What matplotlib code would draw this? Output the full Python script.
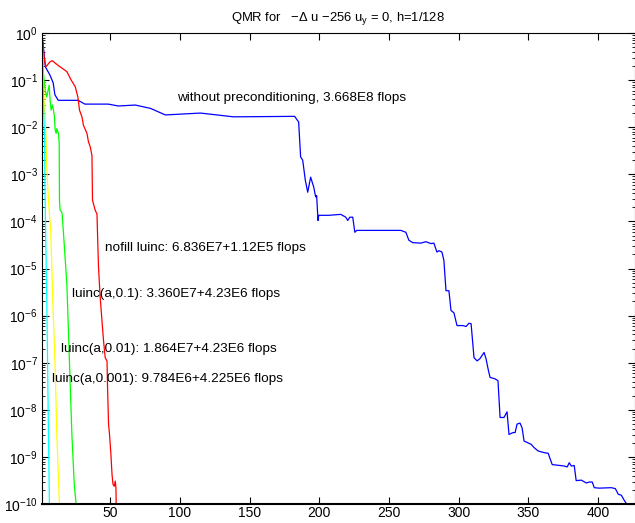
import numpy as np
import matplotlib
matplotlib.use("Agg")
import matplotlib.pyplot as plt
from matplotlib.ticker import LogLocator, NullFormatter, NullLocator

plt.rcParams['font.family'] = ['Liberation Sans', 'DejaVu Sans']
plt.rcParams['mathtext.fontset'] = 'custom'
plt.rcParams['mathtext.rm'] = 'Liberation Sans'
plt.rcParams['mathtext.it'] = 'Liberation Sans'
plt.rcParams['mathtext.default'] = 'regular'

# Residuen (log10) je Iteration
it_none = [1, 3.5, 6.7, 9.1, 10.3, 12.7, 27, 31.8, 48.6, 55.8, 68, 78.8, 89.6, 114.7, 138.5,
           182.3, 185.2, 186.6, 188.1, 190, 191.7, 193.8, 196, 197.4, 198.1, 198.8, 199.1, 199.6,
           206.8, 215.4, 219, 220.4, 221.9, 224, 225.5, 226.9, 258.5, 262.1, 264.3, 267.1, 272.9,
           276.5, 280.1, 282.2, 284.4, 285.8, 288, 289.4, 290.9, 293, 294.5, 296.6, 298.8, 303.1,
           305.3, 307.4, 308.9, 311, 313.2, 315.3, 318.2, 319.6, 321.1, 322.5, 326.1, 328.2, 329.7,
           332.5, 334.7, 336.1, 339, 340.5, 341.9, 344, 345.5, 346.9, 349.8, 352, 354.1, 357,
           359.2, 362, 364.2, 367.1, 370, 375.7, 377.9, 379.3, 380.8, 382.9, 384.3, 388, 391.5,
           393.7, 395.8, 397.3, 400.9, 409.5, 412.4, 414.5, 416.7, 418.8, 421]
lg_none = [0, -0.72, -0.89, -1.06, -1.31, -1.43, -1.43, -1.51, -1.51, -1.55, -1.53, -1.60, -1.74,
           -1.70, -1.78, -1.77, -1.89, -2.63, -2.70, -3.13, -3.38, -3.06, -3.27, -3.48, -3.45,
           -3.83, -3.98, -3.87, -3.87, -3.85, -3.91, -3.98, -3.91, -3.91, -4.23, -4.19, -4.19,
           -4.23, -4.40, -4.45, -4.46, -4.43, -4.47, -4.46, -4.65, -4.62, -4.65, -4.83, -5.47,
           -5.47, -5.89, -5.94, -6.21, -6.21, -6.23, -6.16, -6.17, -6.89, -6.96, -6.91, -6.78,
           -6.91, -7.13, -7.31, -7.34, -7.38, -8.16, -8.16, -8.04, -8.52, -8.48, -8.48, -8.30,
           -8.28, -8.38, -8.66, -8.70, -8.73, -8.80, -8.87, -8.89, -8.91, -8.92, -9.16, -9.17,
           -9.19, -9.21, -9.12, -9.19, -9.18, -9.50, -9.49, -9.55, -9.53, -9.53, -9.65, -9.66,
           -9.65, -9.67, -9.79, -9.81, -9.92, -10.02]

it_nofill = [1, 2.8, 3.8, 6.9, 8.6, 10.5, 14.1, 18.9, 22, 24.9, 26.8, 28, 29.7, 30.8, 33.3, 34.4,
             35.7, 36.9, 37.3, 39.3, 40.5, 40.9, 41.6, 42.8, 44.1, 45.2, 46.4, 47.7, 48.1, 48.8,
             49.5, 50.5, 51.3, 52, 52.9, 53.6, 54.1, 54.3]
lg_nofill = [0, -0.57, -0.72, -0.61, -0.59, -0.64, -0.72, -0.82, -1.0, -1.14, -1.36, -1.64,
             -1.78, -1.96, -2.13, -2.31, -2.42, -2.60, -3.55, -3.77, -3.84, -4.26, -4.97, -5.61,
             -6.11, -6.53, -6.89, -6.96, -7.53, -8.30, -8.52, -8.94, -9.37, -9.58, -9.62, -9.51,
             -9.65, -10.02]

it_01 = [1, 2.1, 3.3, 4.5, 5.2, 6.2, 6.9, 7.6, 8.6, 9.3, 10, 10.5, 11.2, 11.7, 12.4, 12.9, 13.4,
         13.6, 14.1, 14.8, 15.5, 16.5, 18.9, 20.1, 21.3, 22.5, 24.2, 25.6]
lg_01 = [0, -0.86, -1.21, -1.36, -1.25, -1.11, -1.43, -1.64, -1.53, -1.64, -1.78, -2.06, -2.13,
         -2.03, -2.10, -2.13, -2.35, -3.55, -3.77, -3.78, -3.84, -4.26, -5.33, -6.39, -7.45,
         -8.52, -9.58, -10.02]

it_001 = [1, 1.7, 2.6, 3.8, 4.5, 5.7, 7.4, 8.8, 10.5, 11.7, 13.6]
lg_001 = [0, -0.72, -1.43, -2.13, -2.84, -3.55, -4.26, -5.68, -7.10, -8.52, -10.02]

it_0001 = [1, 2.1, 2.8, 3.3, 4.5, 5.7, 6.4]
lg_0001 = [0, -1.43, -2.13, -3.55, -5.67, -8.52, -10.02]

fig = plt.figure(figsize=(6.35, 5.23), dpi=100)
ax = fig.add_axes([0.066, 0.036, 0.934, 0.901])

ax.semilogy(it_none, 10.0 ** np.array(lg_none), color='#0000ff', lw=0.9)
ax.semilogy(it_nofill, 10.0 ** np.array(lg_nofill), color='#ff0000', lw=0.9)
ax.semilogy(it_01, 10.0 ** np.array(lg_01), color='#00ff00', lw=0.9)
ax.semilogy(it_001, 10.0 ** np.array(lg_001), color='#ffff00', lw=0.9)
ax.semilogy(it_0001, 10.0 ** np.array(lg_0001), color='#00ffff', lw=0.9)

fs = 9.7
ax.text(98.2, 10 ** -1.38, 'without preconditioning, 3.668E8 flops', fontsize=fs, va='center')
ax.text(46.5, 10 ** -4.57, 'nofill luinc: 6.836E7+1.12E5 flops', fontsize=fs, va='center')
ax.text(22.7, 10 ** -5.54, 'luinc(a,0.1): 3.360E7+4.23E6 flops', fontsize=fs, va='center')
ax.text(14.8, 10 ** -6.71, 'luinc(a,0.01): 1.864E7+4.23E6 flops', fontsize=fs, va='center')
ax.text(8.4, 10 ** -7.35, 'luinc(a,0.001): 9.784E6+4.225E6 flops', fontsize=fs, va='center')

ax.set_title(r'QMR for   $-\Delta$ u $-$256 u$_y$ = 0, h=1/128', fontsize=9.4, pad=9)

ax.set_xlim(1, 426.5)
ax.set_ylim(1e-10, 1)
ax.set_xticks([50, 100, 150, 200, 250, 300, 350, 400])
ax.xaxis.set_minor_locator(NullLocator())
ax.yaxis.set_major_locator(LogLocator(base=10, numticks=20))
ax.yaxis.set_minor_locator(LogLocator(base=10, subs=np.arange(2, 10), numticks=20))
ax.yaxis.set_minor_formatter(NullFormatter())
ax.tick_params(which='both', direction='in', top=True, right=True, labelsize=10)
ax.tick_params(which='major', length=5, width=0.8)
ax.tick_params(which='minor', length=2.5, width=0.6)
ax.tick_params(axis='x', pad=1.5)
ax.tick_params(axis='y', pad=3)
for s in ax.spines.values():
    s.set_linewidth(0.8)
ax.spines['bottom'].set_linewidth(1.5)

fig.savefig('out.png', dpi=100)
